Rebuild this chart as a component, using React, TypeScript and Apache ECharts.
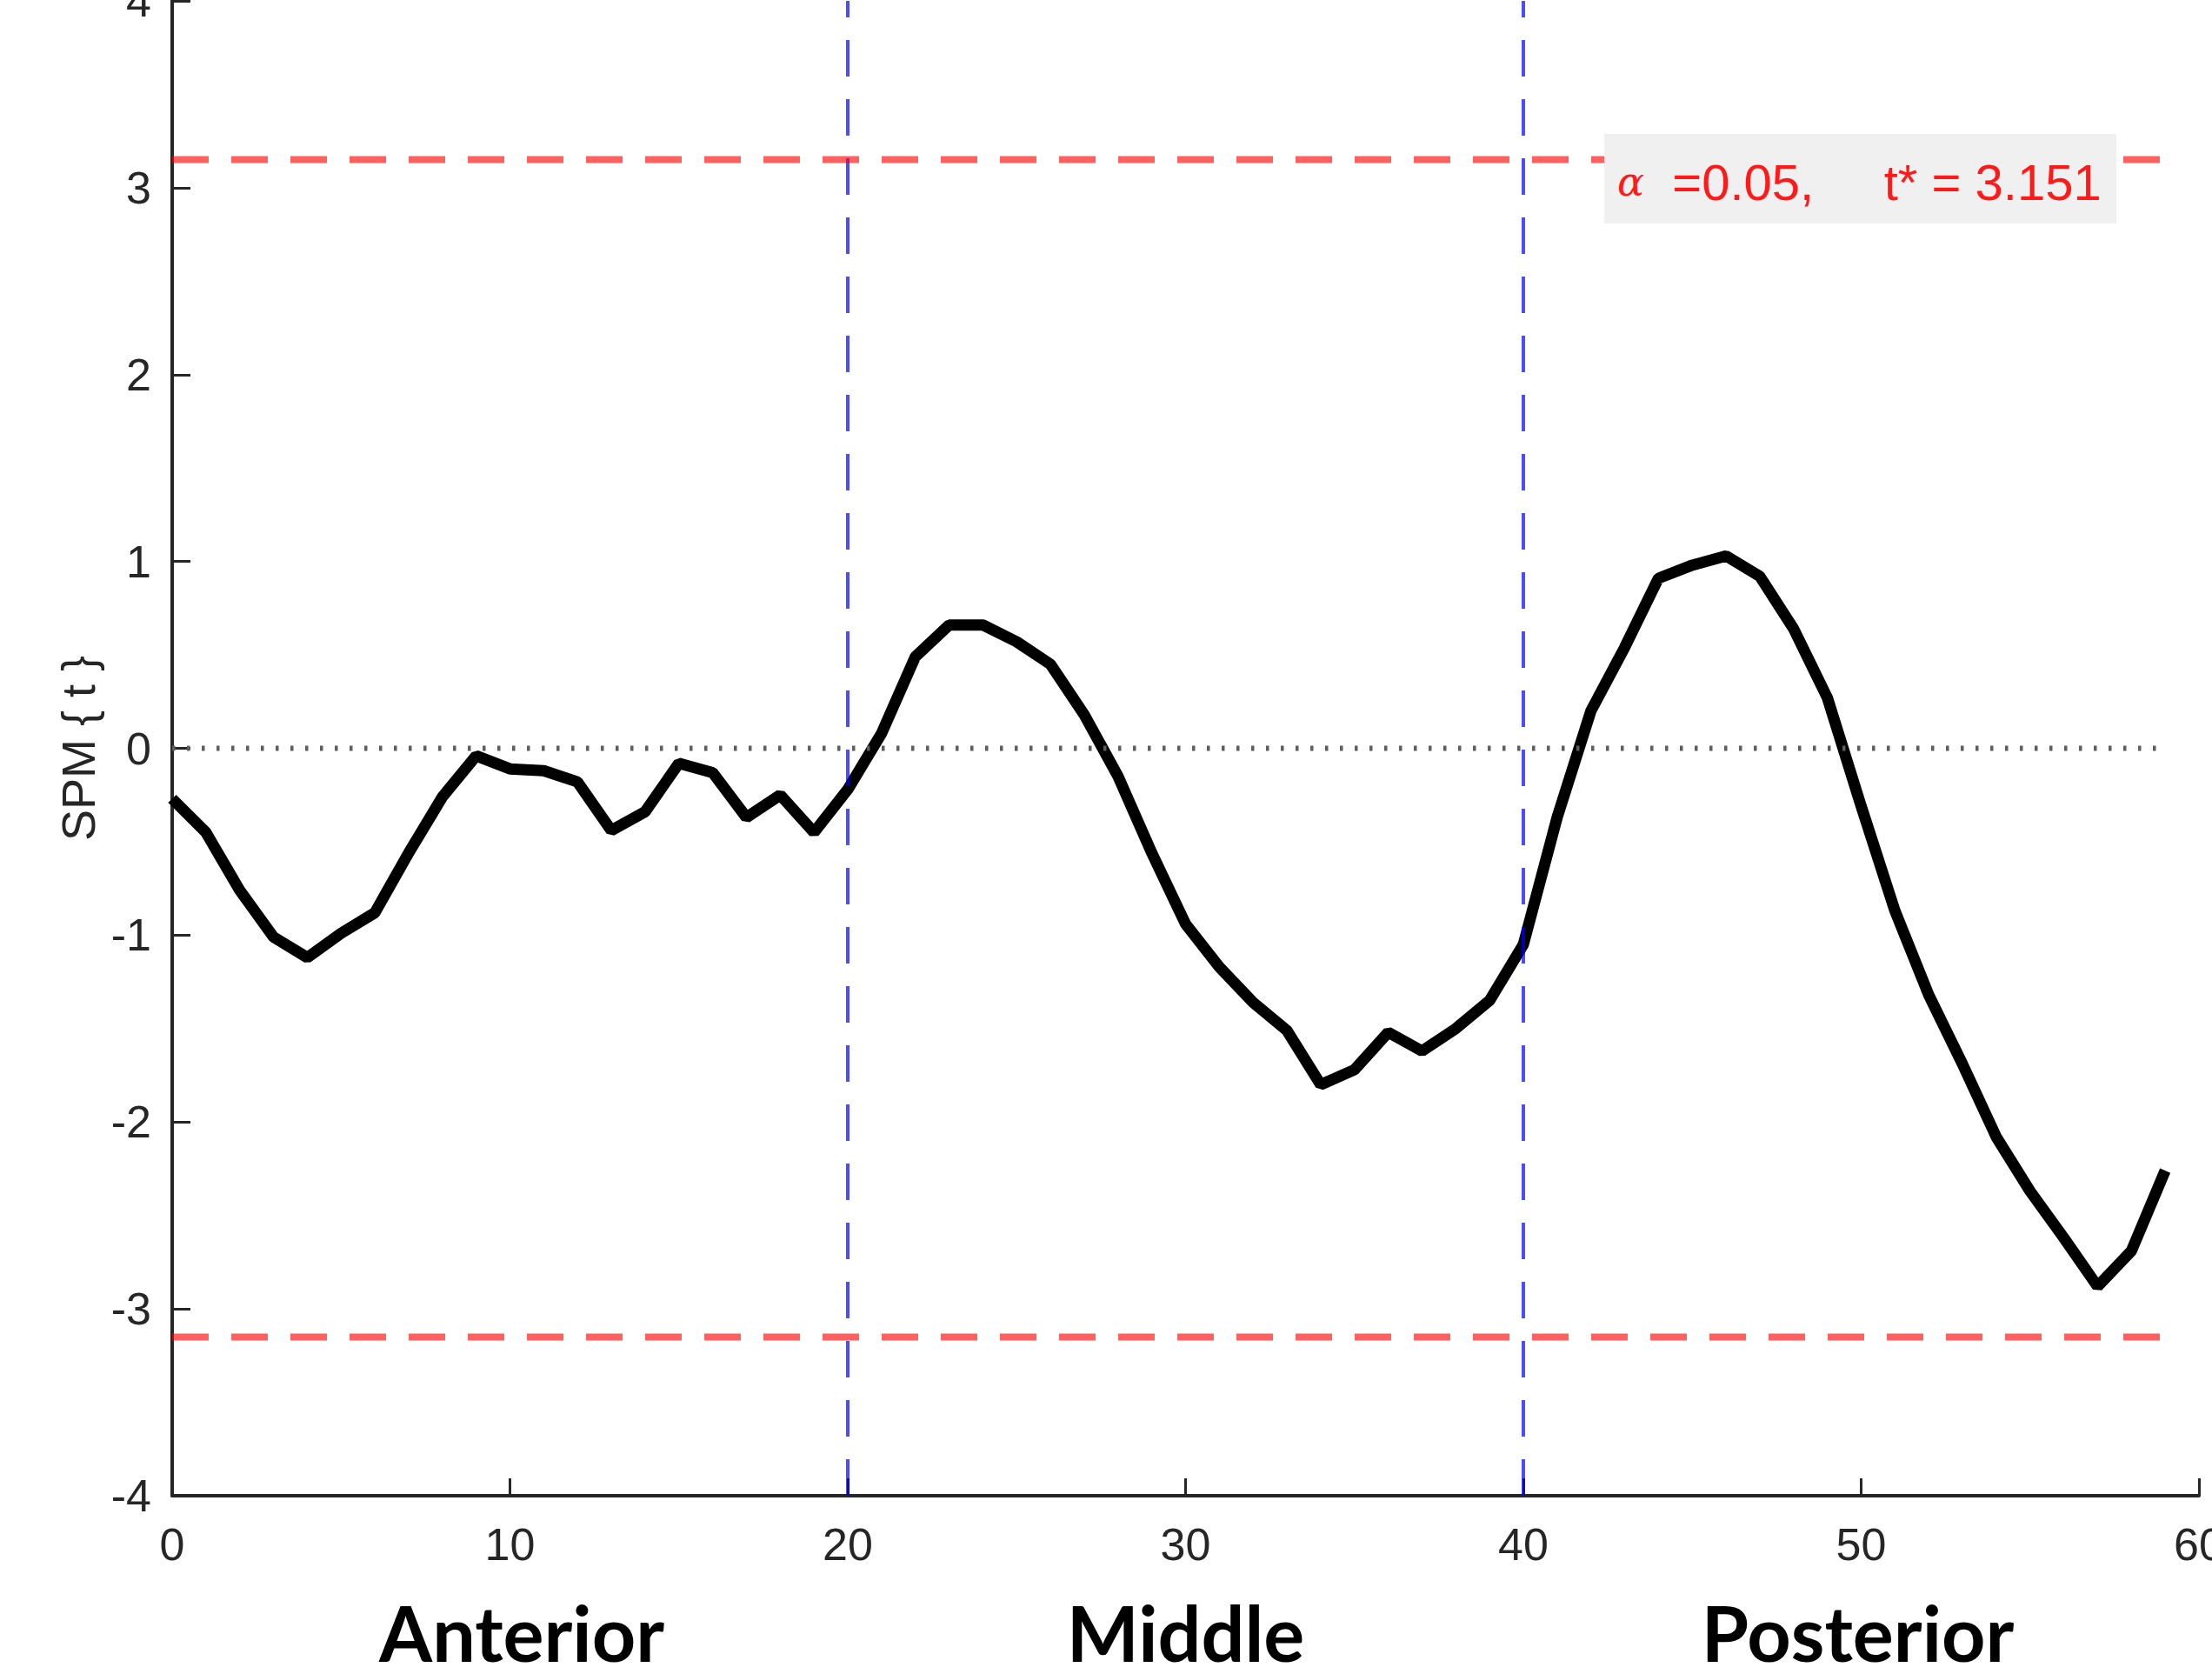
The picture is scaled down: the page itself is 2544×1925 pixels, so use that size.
import React, { useEffect, useRef } from "react";
import * as echarts from "echarts";

// ---- data ----
const nodes = [
  0, 1, 2, 3, 4, 5, 6, 7, 8, 9, 10, 11, 12, 13, 14, 15, 16, 17, 18, 19,
  20, 21, 22, 23, 24, 25, 26, 27, 28, 29, 30, 31, 32, 33, 34, 35, 36, 37, 38, 39,
  40, 41, 42, 43, 44, 45, 46, 47, 48, 49, 50, 51, 52, 53, 54, 55, 56, 57, 58, 59,
];
const spmT = [
  -0.27, -0.45, -0.76, -1.01, -1.12, -0.99, -0.88, -0.56, -0.26, -0.04,
  -0.11, -0.12, -0.18, -0.44, -0.34, -0.08, -0.13, -0.37, -0.25, -0.45,
  -0.22, 0.08, 0.49, 0.66, 0.66, 0.57, 0.45, 0.18, -0.15, -0.56,
  -0.94, -1.17, -1.36, -1.51, -1.8, -1.72, -1.52, -1.62, -1.5, -1.35,
  -1.05, -0.37, 0.2, 0.54, 0.91, 0.98, 1.03, 0.92, 0.64, 0.27,
  -0.31, -0.87, -1.32, -1.69, -2.08, -2.37, -2.62, -2.88, -2.69, -2.26,
];
const criticalT = 3.151;
const alphaLevel = "0.05";
const regionBounds = [20, 40];
const regionNames = ["Anterior", "Middle", "Posterior"];
const regionCenters = [10.35, 30.0, 49.9];
const yLabel = "SPM { t }";

const FONT = "'Liberation Sans', Arial, Helvetica, sans-serif";
const AX = "#262626";

export default function App() {
  const ref = useRef<HTMLDivElement>(null);
  useEffect(() => {
    if (!ref.current) return;
    const chart = echarts.init(ref.current, undefined, { renderer: "svg" });
    const xFirst = nodes[0];
    const xLast = nodes[nodes.length - 1];
    const series: any[] = [
      {
        type: "line",
        data: nodes.map((n, i) => [n, spmT[i]]),
        symbol: "none",
        silent: true,
        lineStyle: { color: "#000", width: 13 },
        z: 2,
      },
      {
        type: "line",
        data: [
          [xFirst, 0],
          [xLast, 0],
        ],
        symbol: "none",
        silent: true,
        lineStyle: { color: "#5e5e5e", width: 6, type: [3.5, 13.5] },
        z: 3,
      },
      ...regionBounds.map((b) => ({
        type: "line",
        data: [
          [b, -4],
          [b, 4],
        ],
        symbol: "none",
        silent: true,
        lineStyle: { color: "rgba(0,0,255,0.7)", width: 4, type: [42, 26] },
        z: 4,
      })),
      ...[criticalT, -criticalT].map((v) => ({
        type: "line",
        data: [
          [xFirst, v],
          [xLast, v],
        ],
        symbol: "none",
        silent: true,
        lineStyle: { color: "rgba(255,0,0,0.62)", width: 8, type: [42, 26] },
        z: 5,
      })),
    ];
    chart.setOption({
      animation: false,
      backgroundColor: "#fff",
      grid: {
        left: 198,
        right: 15,
        top: 1,
        bottom: 205,
        containLabel: false,
        outerBoundsMode: "none",
      },
      xAxis: {
        type: "value",
        min: 0,
        max: 60,
        interval: 10,
        axisLine: { show: true, onZero: false, lineStyle: { color: AX, width: 4 } },
        axisTick: { show: true, inside: true, length: 20, lineStyle: { color: AX, width: 3 } },
        axisLabel: { color: AX, fontSize: 52, fontFamily: FONT, margin: 30 },
        splitLine: { show: false },
      },
      yAxis: {
        type: "value",
        min: -4,
        max: 4,
        interval: 1,
        name: yLabel,
        nameLocation: "middle",
        nameGap: 80,
        nameRotate: 90,
        nameTextStyle: { color: AX, fontSize: 54, fontFamily: FONT },
        axisLine: { show: true, onZero: false, lineStyle: { color: AX, width: 4 } },
        axisTick: { show: true, inside: true, length: 21, lineStyle: { color: AX, width: 3 } },
        axisLabel: { color: AX, fontSize: 52, fontFamily: FONT, margin: 24 },
        splitLine: { show: false },
      },
      series,
    });

    const graphics: any[] = [];
    regionNames.forEach((name, i) => {
      const p = chart.convertToPixel({ gridIndex: 0 }, [regionCenters[i], -4]) as number[];
      graphics.push({
        type: "text",
        x: p[0],
        y: 1877,
        style: {
          text: name,
          fill: "#000",
          font: "bold 88px Lato, 'Open Sans', sans-serif",
          lineHeight: 76,
          align: "center",
          verticalAlign: "middle",
        },
      });
    });
    graphics.push({
      type: "rect",
      shape: { x: 1845, y: 154, width: 589, height: 103 },
      style: { fill: "#f0f0f0" },
      z: 10,
    });
    graphics.push({
      type: "text",
      x: 1860,
      y: 209,
      z: 11,
      style: {
        rich: {
          a: { fontFamily: "'DejaVu Serif', serif", fontStyle: "italic", fontSize: 46, fill: "#ff1a1a" },
          b: { fontFamily: FONT, fontSize: 58, fill: "#ff1a1a" },
        },
        text: `{a|α}{b|  =${alphaLevel},     t* = ${criticalT.toFixed(3)}}`,
        verticalAlign: "middle",
        align: "left",
      },
    });
    chart.setOption({ graphic: graphics });

    return () => chart.dispose();
  }, []);
  return (
    <div
      ref={ref}
      style={{ position: "fixed", left: 0, top: 0, width: 2544, height: 1925 }}
    />
  );
}
